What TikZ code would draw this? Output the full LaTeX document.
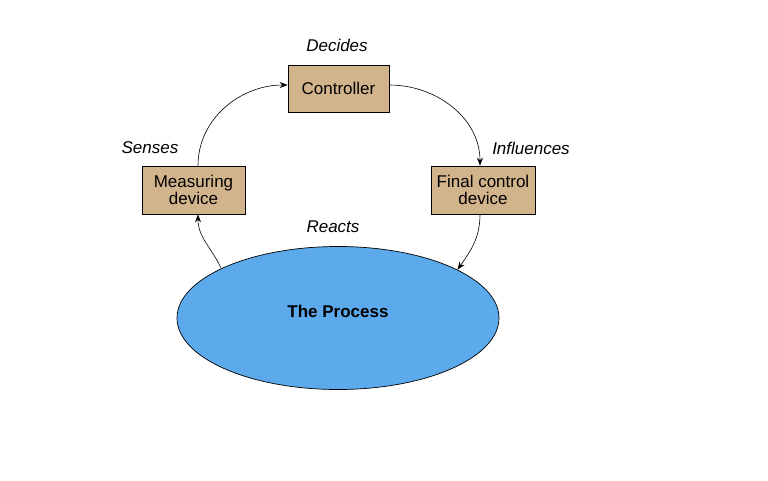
\documentclass[tikz,border=0pt]{standalone}
\usepackage{fontspec}
\setmainfont{Liberation Sans}
\usetikzlibrary{arrows.meta,shapes.geometric}
\definecolor{boxtan}{RGB}{210,180,140}
\definecolor{processblue}{RGB}{92,170,236}

\begin{document}
\begin{tikzpicture}[x=1pt,y=-1pt,font=\fontsize{17}{17}\selectfont,
  flow/.style={-{Stealth[length=8pt,width=6pt]},draw=black,line width=0.6pt},
  device/.style={draw=black,fill=boxtan,line width=0.7pt,minimum width=103pt,
    minimum height=48pt,inner sep=0pt,align=center},
  verb/.style={font=\itshape\fontsize{17}{17}\selectfont}]
\useasboundingbox (0,0) rectangle (768,480);

% The process and the three loop elements.
\node[ellipse,draw=black,fill=processblue,line width=0.7pt,minimum width=322pt,
  minimum height=143pt,inner sep=0pt,text depth=13pt,
  font=\bfseries\fontsize{17}{17}\selectfont]
  (process) at (338,318) {The Process};
\node[device,minimum width=101pt,minimum height=47pt] (controller) at (338.5,88.5) {Controller};
\node[device] (measuring) at (193.5,190) {Measuring\\device};
\node[device,minimum width=104pt] (final) at (483,190) {Final control\\device};

% Stage labels.
\node[verb] (decides) at (337,45) {Decides};
\node[verb] (senses) at (150,148) {Senses};
\node[verb] (influences) at (531,148) {Influences};
\node[verb] (reacts) at (333,227) {Reacts};

% Feedback loop, clockwise.
\draw[flow] (process.157) to[out=115,in=-90] ([xshift=4.5pt]measuring.south);
\draw[flow] ([xshift=4.5pt]measuring.north) to[out=90,in=180] ([yshift=3.5pt]controller.west);
\draw[flow] ([yshift=3.5pt]controller.east) to[out=0,in=90] ([xshift=-3pt]final.north);
\draw[flow] ([xshift=-3pt]final.south) to[out=-90,in=55] (process.22);
\end{tikzpicture}
\end{document}
